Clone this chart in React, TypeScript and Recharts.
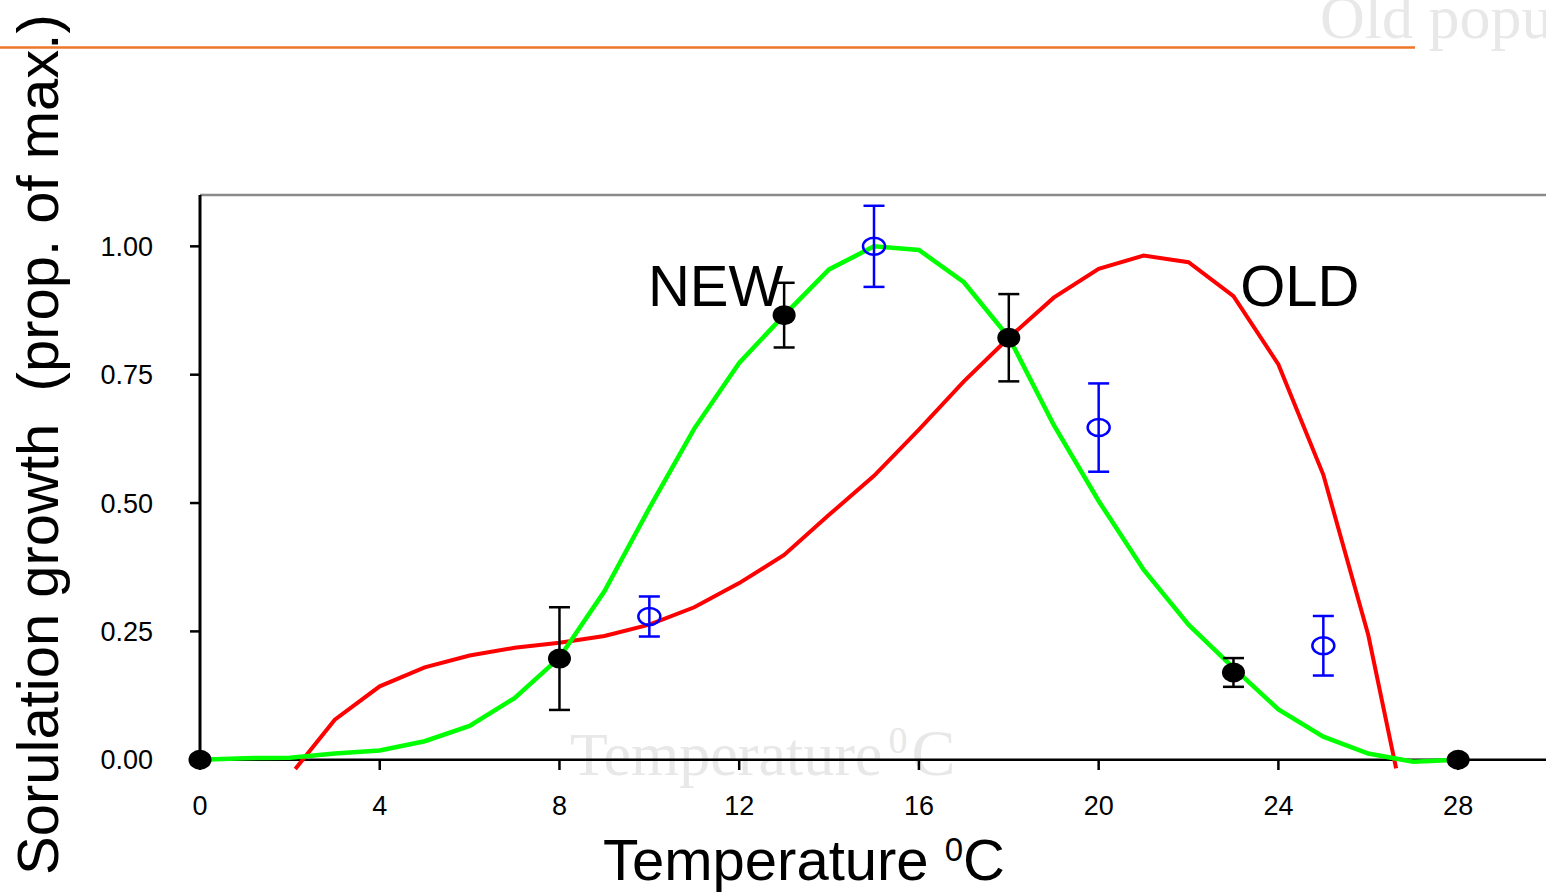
import React from 'react';
import {
  ComposedChart,
  Line,
  Scatter,
  XAxis,
  YAxis,
  ErrorBar,
  ReferenceLine,
  ReferenceDot,
} from 'recharts';

// fitted curves (at each vertex)
const newCurveTemps = [0, 1, 2, 3, 4, 5, 6, 7, 8, 9, 10, 11, 12, 13, 14, 15, 16, 17, 18, 19, 20, 21, 22, 23, 24, 25, 26, 27, 28];
const newCurveValues = [0, 0.003, 0.004, 0.012, 0.018, 0.036, 0.066, 0.12, 0.199, 0.328, 0.49, 0.645, 0.773, 0.866, 0.955, 1.0, 0.993, 0.93, 0.823, 0.652, 0.504, 0.37, 0.263, 0.179, 0.098, 0.045, 0.012, -0.004, 0];

const oldCurveTemps = [2.12, 3, 4, 5, 6, 7, 8, 9, 10, 11, 12, 13, 14, 15, 16, 17, 18, 19, 20, 21, 22, 23, 24, 25, 26, 26.62];
const oldCurveValues = [-0.018, 0.078, 0.143, 0.18, 0.203, 0.218, 0.228, 0.241, 0.263, 0.297, 0.344, 0.399, 0.477, 0.553, 0.643, 0.737, 0.822, 0.9, 0.956, 0.982, 0.969, 0.903, 0.77, 0.555, 0.243, -0.017];

// measured points with error bars
const newTemps = [0, 8, 13, 18, 23, 28];
const newMeans = [0, 0.197, 0.866, 0.822, 0.17, 0];
const newErrors = [0, 0.1, 0.063, 0.085, 0.028, 0];

const oldTemps = [10, 15, 20, 25];
const oldMeans = [0.279, 1.0, 0.647, 0.222];
const oldErrors = [0.039, 0.079, 0.086, 0.058];

const xTicks = [0, 4, 8, 12, 16, 20, 24, 28];
const yTicks = [0, 0.25, 0.5, 0.75, 1];

const newCurve = newCurveTemps.map((t, i) => ({ t, v: newCurveValues[i] }));
const oldCurve = oldCurveTemps.map((t, i) => ({ t, v: oldCurveValues[i] }));
const newPoints = newTemps.map((t, i) => ({ t, v: newMeans[i], err: newErrors[i] }));
const oldPoints = oldTemps.map((t, i) => ({ t, v: oldMeans[i], err: oldErrors[i] }));

const SANS = '"Liberation Sans", Arial, sans-serif';
const SERIF = '"Liberation Serif", "Times New Roman", serif';

const XTick = (props: any) => {
  const { x, y, payload } = props;
  return (
    <g>
      <line x1={x} x2={x} y1={y - 10.3} y2={y} stroke="#000" strokeWidth={2.5} />
      <text x={x} y={y + 45} textAnchor="middle" fontSize={27} fontFamily={SANS} fill="#000">
        {payload.value}
      </text>
    </g>
  );
};

const FilledDot = (props: any) => (
  <ellipse cx={props.cx} cy={props.cy} rx={11.5} ry={10} fill="#000" />
);

const OpenDot = (props: any) => (
  <ellipse cx={props.cx} cy={props.cy} rx={11} ry={8.5} fill="none" stroke="#0000ff" strokeWidth={2.5} />
);

const curveLabel = (text: string) => (props: any) => (
  <text x={props.cx} y={props.cy} fontSize={58} fontFamily={SANS} fill="#000">
    {text}
  </text>
);

const App = () => (
  <div style={{ position: 'absolute', left: 0, top: 0, width: 1546, height: 895, overflow: 'hidden', background: '#fff' }}>
    {/* faded slide text behind the chart */}
    <svg width={1546} height={895} style={{ position: 'absolute', left: 0, top: 0 }}>
      <text x={1320} y={38} fontSize={62} fontFamily={SERIF} fill="#e8e8e8">Old population</text>
      <text x={570} y={775} fontSize={62} fontFamily={SERIF} fill="#e8e8e8">
        Temperature
        <tspan dx={6} dy={-22} fontSize={38}>0</tspan>
        <tspan dx={4} dy={22} fontSize={66}>C</tspan>
      </text>
    </svg>

    <div style={{ position: 'absolute', left: 0, top: 0 }}>
      <ComposedChart
        width={1548}
        height={895}
        margin={{ top: 195, right: 0, left: 0, bottom: 0 }}
        style={{ fontFamily: SANS }}
      >
        <XAxis
          type="number"
          dataKey="t"
          domain={[0, 30]}
          ticks={xTicks}
          height={125}
          axisLine={false}
          tickLine={false}
          tickSize={0}
          tickMargin={0}
          tick={<XTick />}
          label={{
            content: () => (
              <text x={603} y={880} fontSize={58} fontFamily={SANS} fill="#000">
                Temperature{' '}
                <tspan dy={-19} fontSize={33}>0</tspan>
                <tspan dy={19}>C</tspan>
              </text>
            ),
          }}
        />
        <YAxis
          type="number"
          domain={[-0.02, 1.1]}
          ticks={yTicks}
          width={200}
          axisLine={false}
          tickLine={{ stroke: '#000', strokeWidth: 2.5 }}
          tickSize={10}
          tickMargin={37}
          tick={{ fontSize: 27, fill: '#000', fontFamily: SANS }}
          tickFormatter={(v: number) => v.toFixed(2)}
          label={{
            content: () => (
              <text
                transform="rotate(-90)"
                x={-875}
                y={58}
                fontSize={58}
                fontFamily={SANS}
                fill="#000"
                style={{ whiteSpace: 'pre' }}
              >
                Sorulation growth  (prop. of max.)
              </text>
            ),
          }}
        />

        <ReferenceLine y={1.1} stroke="#8a8a8a" strokeWidth={2.5} />
        <ReferenceLine y={0} stroke="#000" strokeWidth={2.5} />
        <ReferenceLine segment={[{ x: 0, y: 0 }, { x: 0, y: 1.1 }]} stroke="#000" strokeWidth={3} />

        <Line data={oldCurve} dataKey="v" type="linear" stroke="#ff0000" strokeWidth={4} dot={false} isAnimationActive={false} />
        <Line data={newCurve} dataKey="v" type="linear" stroke="#00ff00" strokeWidth={4.5} dot={false} isAnimationActive={false} />

        <Scatter data={oldPoints} dataKey="v" shape={<OpenDot />} isAnimationActive={false}>
          <ErrorBar dataKey="err" direction="y" width={10.5} stroke="#0000ff" strokeWidth={2.5} isAnimationActive={false} />
        </Scatter>
        <Scatter data={newPoints} dataKey="v" shape={<FilledDot />} isAnimationActive={false}>
          <ErrorBar dataKey="err" direction="y" width={10.5} stroke="#000" strokeWidth={2.5} isAnimationActive={false} />
        </Scatter>

        <ReferenceDot x={9.97} y={0.884} r={0} shape={curveLabel('NEW')} />
        <ReferenceDot x={23.15} y={0.884} r={0} shape={curveLabel('OLD')} />
      </ComposedChart>
    </div>

    {/* orange rule over the top of the slide */}
    <svg width={1546} height={895} style={{ position: 'absolute', left: 0, top: 0, pointerEvents: 'none' }}>
      <line x1={0} x2={1415} y1={47.5} y2={47.5} stroke="#ee7628" strokeWidth={2.5} />
    </svg>
  </div>
);

export default App;
